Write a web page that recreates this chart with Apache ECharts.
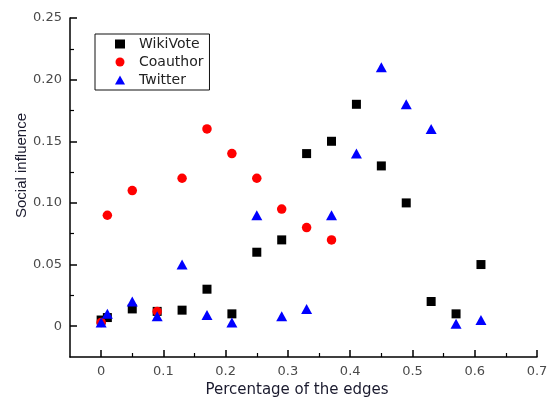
<!DOCTYPE html>
<html>
<head>
<meta charset="utf-8">
<script src="https://cdn.jsdelivr.net/npm/echarts@6/dist/echarts.min.js"></script>
<style>
  html, body { margin: 0; padding: 0; background: #fff; }
  #chart { width: 550px; height: 401px; }
</style>
</head>
<body>
<div id="chart"></div>
<script>
// Percentage of edges for each measured point
const edgePct = [0, 0.01, 0.05, 0.09, 0.13, 0.17, 0.21, 0.25, 0.29, 0.33, 0.37, 0.41, 0.45, 0.49, 0.53, 0.57, 0.61];

// Social influence per dataset
const wikiVote = [0.005, 0.007, 0.014, 0.012, 0.013, 0.030, 0.010, 0.060, 0.070, 0.140, 0.150, 0.180, 0.130, 0.100, 0.020, 0.010, 0.050];
const coauthor = [0.003, 0.090, 0.110, 0.012, 0.120, 0.160, 0.140, 0.120, 0.095, 0.080, 0.070];
const twitter  = [0.003, 0.010, 0.020, 0.008, 0.050, 0.009, 0.003, 0.090, 0.008, 0.014, 0.090, 0.140, 0.210, 0.180, 0.160, 0.002, 0.005];

const seriesNames = ['WikiVote', 'Coauthor', 'Twitter'];

// Axis ticks and their labels
const xTicks = [0, 0.1, 0.2, 0.3, 0.4, 0.5, 0.6, 0.7];
const xTickLabels = ['0', '0.1', '0.2', '0.3', '0.4', '0.5', '0.6', '0.7'];
const xMinorTicks = [0.05, 0.15, 0.25, 0.35, 0.45, 0.55, 0.65];
const yTicks = [0, 0.05, 0.10, 0.15, 0.20, 0.25];
const yTickLabels = ['0', '0.05', '0.10', '0.15', '0.20', '0.25'];
const yMinorTicks = [0.025, 0.075, 0.125, 0.175, 0.225];

const pairs = (ys) => ys.map((y, i) => [edgePct[i], y]);
const labelFor = (ticks, labels) => (v) => {
  const i = ticks.findIndex(t => Math.abs(t - v) < 1e-9);
  return i >= 0 ? labels[i] : '';
};

const axisLine = { show: true, onZero: false, lineStyle: { color: '#000', width: 1.5 } };
const hiddenLine = { show: false, onZero: false };
const tickFont = { fontFamily: 'DejaVu Sans', fontSize: 13, color: '#4a4a4a' };

const chart = echarts.init(document.getElementById('chart'), null, { renderer: 'canvas' });
chart.setOption({
  animation: false,
  backgroundColor: '#fff',
  grid: { left: 70, right: 13, top: 18, bottom: 44, containLabel: false, outerBoundsMode: 'none' },
  legend: {
    orient: 'vertical',
    left: 95,
    top: 34,
    data: seriesNames,
    itemWidth: 10,
    itemHeight: 9,
    itemGap: 4,
    padding: [3, 6, 3, 20],
    borderColor: '#111',
    borderWidth: 1,
    borderRadius: 0,
    textStyle: { fontFamily: 'DejaVu Sans', fontSize: 14, color: '#222', padding: [0, 0, 0, 9] },
    selectedMode: false
  },
  xAxis: [
    {
      type: 'value', min: -0.05, max: 0.7,
      axisLine: axisLine,
      axisTick: { show: true, inside: true, length: 7, customValues: xTicks, lineStyle: { color: '#000', width: 1.5 } },
      axisLabel: { customValues: xTicks, formatter: labelFor(xTicks, xTickLabels), margin: 8, ...tickFont },
      splitLine: { show: false },
      name: 'Percentage of the edges',
      nameLocation: 'middle',
      nameGap: 25,
      nameTextStyle: { fontFamily: 'DejaVu Sans', fontSize: 15, color: '#1a1a2e', padding: [0, 13, 0, 0] }
    },
    {
      type: 'value', min: -0.05, max: 0.7, position: 'bottom',
      axisLine: hiddenLine,
      axisTick: { show: true, inside: true, length: 4, customValues: xMinorTicks, lineStyle: { color: '#000', width: 1.2 } },
      axisLabel: { show: false },
      splitLine: { show: false }
    }
  ],
  yAxis: [
    {
      type: 'value', min: -0.025, max: 0.25,
      axisLine: axisLine,
      axisTick: { show: true, inside: true, length: 7, customValues: yTicks, lineStyle: { color: '#000', width: 1.5 } },
      axisLabel: { customValues: yTicks, formatter: labelFor(yTicks, yTickLabels), margin: 8, ...tickFont },
      splitLine: { show: false },
      name: 'Social influence',
      nameLocation: 'middle',
      nameRotate: 90,
      nameGap: 41,
      nameMoveOverlap: false,
      nameTextStyle: { fontFamily: 'Liberation Sans', fontSize: 15, color: '#1a1a2e', padding: [0, 0, 0, 44] }
    },
    {
      type: 'value', min: -0.025, max: 0.25, position: 'left',
      axisLine: hiddenLine,
      axisTick: { show: true, inside: true, length: 4, customValues: yMinorTicks, lineStyle: { color: '#000', width: 1.2 } },
      axisLabel: { show: false },
      splitLine: { show: false }
    }
  ],
  series: [
    {
      name: 'WikiVote', type: 'scatter', symbol: 'rect', symbolSize: 9,
      itemStyle: { color: '#000', opacity: 1 }, data: pairs(wikiVote), emphasis: { disabled: true }
    },
    {
      name: 'Coauthor', type: 'scatter', symbol: 'circle', symbolSize: 9.5,
      itemStyle: { color: '#ff0000', opacity: 1 }, data: pairs(coauthor), emphasis: { disabled: true }
    },
    {
      name: 'Twitter', type: 'scatter', symbol: 'triangle', symbolSize: [11, 10],
      itemStyle: { color: '#0000ff', opacity: 1 }, data: pairs(twitter), emphasis: { disabled: true }
    }
  ]
});
</script>
</body>
</html>
